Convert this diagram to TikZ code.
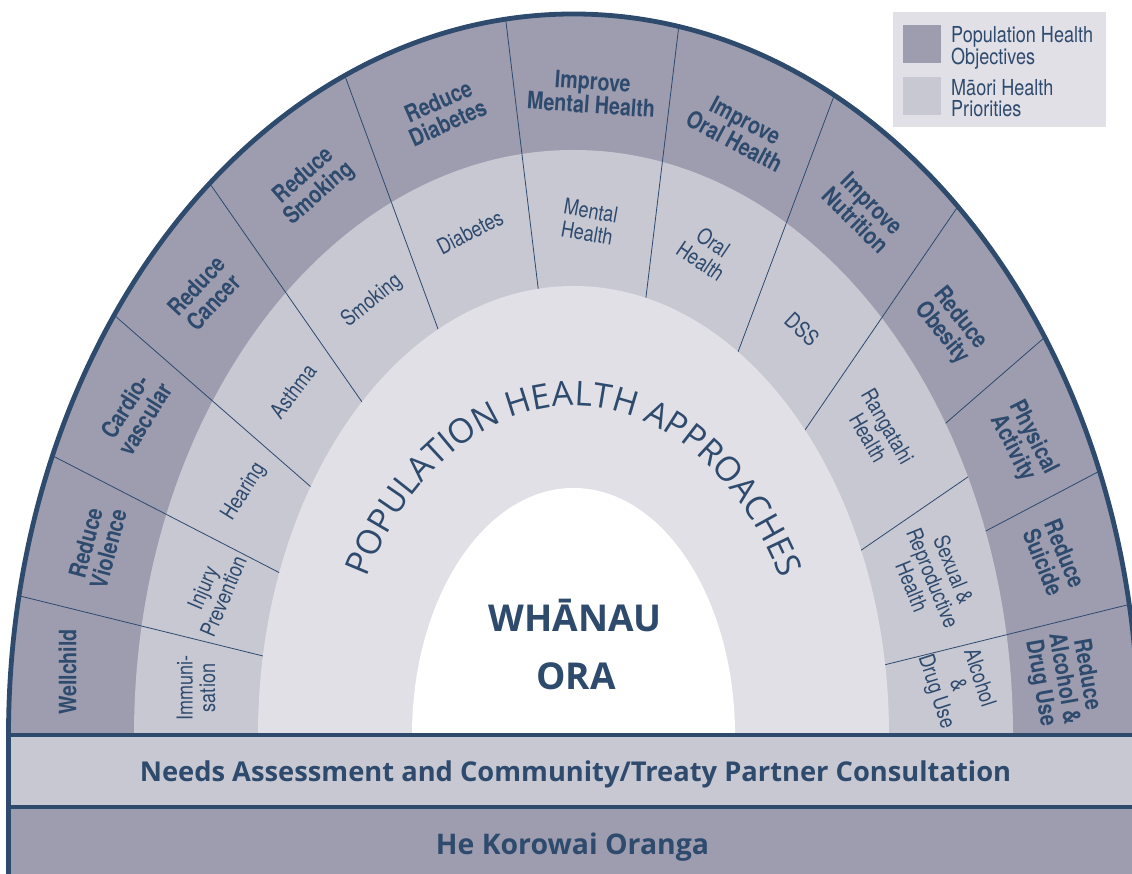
\documentclass[tikz,border=0pt]{standalone}
\usepackage{fontspec}
\setmainfont{Open Sans}
\newfontfamily\osans{Open Sans}
\newfontfamily\cond[FakeStretch=0.82]{TeX Gyre Heros}
\usetikzlibrary{calc,decorations.text}
\definecolor{navy}{HTML}{2E4A6D}
\definecolor{darkring}{HTML}{9E9DB0}
\definecolor{lightring}{HTML}{C8C8D3}
\definecolor{approach}{HTML}{E1E0E6}
\newcommand\apfont{\osans\fontsize{34}{34}\selectfont}
\begin{document}
\begin{tikzpicture}[x=1pt,y=1pt,
  olab/.style={font=\cond\bfseries\fontsize{24}{23.5}\selectfont, text=navy, align=center, inner sep=0pt},
  mlab/.style={font=\cond\fontsize{22}{22.5}\selectfont, text=navy, align=center, inner sep=0pt},
  leglab/.style={font=\cond\fontsize{22}{21}\selectfont, text=navy, align=left, inner sep=0pt, anchor=west},
  divider/.style={draw=navy, line width=0.8pt},
  border/.style={draw=navy, line width=4.8pt},
  bartext/.style={font=\osans\bfseries\fontsize{28}{28}\selectfont, text=navy, anchor=base, inner sep=0pt},
  centertext/.style={font=\osans\bfseries\fontsize{37}{37}\selectfont, text=navy, anchor=base, inner sep=0pt}
]
\useasboundingbox (0,0) rectangle (1132,874);
\clip (0,0) rectangle (1132,874);
\coordinate (C) at (573.5,139);
% divider end points
\coordinate (K1) at (263,218); \coordinate (K2) at (20,278);
\coordinate (L1) at (280,301); \coordinate (L2) at (53,418);
\coordinate (A1) at (311,387); \coordinate (A2) at (114,559);
\coordinate (B1) at (362,472); \coordinate (B2) at (277,594);
\coordinate (C1) at (438,545); \coordinate (C2) at (349,787);
\coordinate (D1) at (538,587); \coordinate (D2) at (506,852);
\coordinate (E1) at (646,577); \coordinate (E2) at (678,841);
\coordinate (F1) at (738,522); \coordinate (F2) at (828,762);
\coordinate (G1) at (805,444); \coordinate (G2) at (950,656);
\coordinate (H1) at (939,445); \coordinate (H2) at (1037,530);
\coordinate (I1) at (982,341); \coordinate (I2) at (1094,400);
\coordinate (M1) at (860,323); \coordinate (M2) at (962,393);
\coordinate (J1) at (884,209); \coordinate (J2) at (1127,269);
% bars
\fill[lightring] (8.5,67) rectangle (1132,139);
\fill[darkring] (8.5,0) rectangle (1132,67);
% outer ring
\fill[darkring] (8.5,139) arc[start angle=180,end angle=0,x radius=565,y radius=721] -- cycle;
\begin{scope}
  \clip (8.5,139) arc[start angle=180,end angle=0,x radius=565,y radius=721] -- cycle;
  \foreach \n in {K,L,A,B,C,D,E,F,G,H,I,J}{
    \draw[divider] ($(\n1)!-0.5!(\n2)$) -- ($(\n1)!3!(\n2)$);
  }
\end{scope}
% middle ring
\fill[lightring] (134,139) arc[start angle=180,end angle=0,x radius=439.5,y radius=585] -- cycle;
\begin{scope}
  \clip (134,139) arc[start angle=180,end angle=0,x radius=439.5,y radius=585] -- cycle;
  \foreach \n in {K,L,A,B,C,D,E,F,G,M,J}{
    \draw[divider] ($(\n1)!-0.5!(\n2)$) -- ($(\n1)!3!(\n2)$);
  }
\end{scope}
% approaches
\fill[approach] (258,139) arc[start angle=180,end angle=0,x radius=315.5,y radius=449] -- cycle;
% whanau ora
\fill[white] (412,139) arc[start angle=180,end angle=0,x radius=161.5,y radius=247] -- cycle;
% borders
\draw[border] (8.5,-5) -- (8.5,139) arc[start angle=180,end angle=0,x radius=565,y radius=721];
\draw[border] (8.5,139) -- (1140,139);
\draw[border] (8.5,67) -- (1140,67);
% bar texts
\node[bartext, font=\osans\bfseries\fontsize{27.3}{28}\selectfont] (needs) at (575.5,92) {Needs Assessment and Community/Treaty Partner Consultation};
\node[bartext, font=\osans\bfseries\fontsize{28.4}{28}\selectfont] (korowai) at (572.5,19) {He Korowai Oranga};
% centre
\node[centertext] (whanau) at (575,242) {WHĀNAU};
\node[centertext] (ora) at (576,184) {ORA};
\path[decorate, decoration={text along path, text={|\apfont\color{navy}|POPULATION HEALTH APPROACHES}, text align={fit to path}}]
  (C) ++(151.5:235 and 329) arc[start angle=151.5, end angle=28.5, x radius=235, y radius=329];
% outer labels
\node[olab, rotate=90] (o1) at (67.5,202) {Wellchild};
\node[olab, rotate=75] (o2) at (97,328) {Reduce\\Violence};
\node[olab, rotate=58] (o3) at (135,461) {Cardio-\\vascular};
\node[olab, rotate=47] (o4) at (205,580) {Reduce\\Cancer};
\node[olab, rotate=41] (o5) at (312,689) {Reduce\\Smoking};
\node[olab, rotate=24] (o6) at (443,762) {Reduce\\Diabetes};
\node[olab, rotate=-4] (o7) at (592,781) {Improve\\Mental Health};
\node[olab, rotate=-28] (o8) at (740,743) {Improve\\Oral Health};
\node[olab, rotate=-45] (o9) at (864,662) {Improve\\Nutrition};
\node[olab, rotate=-51] (o10) at (951,548) {Reduce\\Obesity};
\node[olab, rotate=-63] (o11) at (1023,431) {Physical\\Activity};
\node[olab, rotate=-68] (o12) at (1054,316) {Reduce\\Suicide};
\node[olab, rotate=-80] (o13) at (1063,195) {Reduce\\Alcohol \&\\Drug Use};
% middle labels
\node[mlab, rotate=90] (m1) at (196,186) {Immuni-\\sation};
\node[mlab, rotate=67] (m2) at (213,282) {Injury\\Prevention};
\node[mlab, rotate=58] (m3) at (244,382) {Hearing};
\node[mlab, rotate=53] (m4) at (293,483) {Asthma};
\node[mlab, rotate=39] (m5) at (372,573) {Smoking};
\node[mlab, rotate=27] (m6) at (470,642) {Diabetes};
\node[mlab, rotate=-10] (m7) at (589,652) {Mental\\Health};
\node[mlab, rotate=-34] (m8) at (707,622) {Oral\\Health};
\node[mlab, rotate=-43] (m9) at (802,545) {DSS};
\node[mlab, rotate=-60] (m10) at (878,442) {Rangatahi\\Health};
\node[mlab, rotate=-68] (m11) at (933,296) {Sexual \&\\Reproductive\\Health};
\node[mlab, rotate=-72] (m12) at (957,189) {Alcohol\\\&\\Drug Use};
% legend
\fill[approach] (893,747) rectangle (1106,862);
\fill[darkring] (903,811) rectangle (941,849);
\fill[lightring] (903,759) rectangle (941,797);
\node[leglab] (leg1) at (951,826) {Population Health\\Objectives};
\node[leglab] (leg2) at (951,776) {Māori Health\\Priorities};
\end{tikzpicture}
\end{document}
